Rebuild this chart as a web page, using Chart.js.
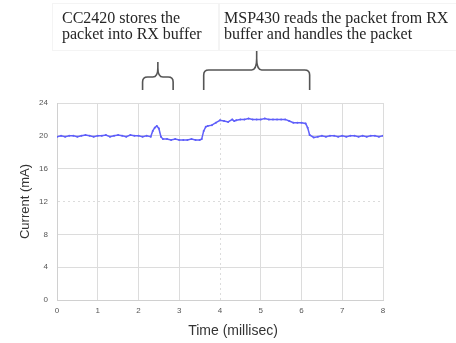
<!DOCTYPE html>
<html><head><meta charset="utf-8">
<script src="https://cdn.jsdelivr.net/npm/chart.js@4/dist/chart.umd.min.js"></script>
<style>html,body{margin:0;padding:0;background:#fff;}canvas{display:block;}</style>
</head><body>
<canvas id="c" width="456" height="343"></canvas>
<script>
// ---- data ----
const timeMs = [
  0,0.1,0.2,0.3,0.4,0.5,0.6,0.7,0.8,0.9,1.0,1.1,1.2,1.3,1.4,1.5,1.6,1.7,1.8,1.9,2.0,2.1,2.2,2.3,
  2.35,2.4,2.45,2.5,2.55,2.6,2.7,2.8,2.9,3.0,3.1,3.2,3.3,3.4,3.5,3.55,3.6,3.65,3.7,3.8,3.9,4.0,
  4.1,4.2,4.3,4.35,4.4,4.5,4.6,4.7,4.8,4.9,5.0,5.1,5.2,5.3,5.4,5.5,5.6,5.7,5.8,5.9,6.0,6.1,6.15,
  6.2,6.3,6.4,6.5,6.6,6.7,6.8,6.9,7.0,7.1,7.2,7.3,7.4,7.5,7.6,7.7,7.8,7.9,8.0
];
const currentMA = [
  19.9,20.0,19.9,20.0,20.0,19.9,20.0,20.1,20.0,19.9,20.0,20.0,20.1,19.9,20.0,20.1,20.0,19.9,20.1,20.0,20.0,19.9,20.0,19.9,
  20.6,21.0,21.2,20.9,19.9,19.6,19.6,19.5,19.6,19.5,19.5,19.5,19.6,19.5,19.5,19.6,20.6,21.1,21.2,21.3,21.6,21.9,
  21.8,21.7,22.0,21.8,21.9,22.0,22.0,22.1,22.0,22.0,22.0,22.1,22.0,22.0,22.0,22.0,22.0,21.8,21.6,21.6,21.6,21.5,21.0,
  20.1,19.8,19.9,20.0,19.9,20.0,20.0,19.9,20.0,19.9,20.0,20.0,19.9,20.0,19.9,20.0,20.0,19.9,20.0
];
const xTicks = [0,1,2,3,4,5,6,7,8];
const yTicks = [0,4,8,12,16,20,24];
const noteLines = [
  ["CC2420 stores the", "packet into RX buffer"],
  ["MSP430 reads the packet from RX", "buffer and handles the packet"]
];
const braceStart = [2.1, 3.6];
const braceEnd = [2.85, 6.2];
const xTitle = "Time (millisec)";
const yTitle = "Current (mA)";

const points = timeMs.map((t, i) => ({x: t, y: currentMA[i]}));

const annot = {
  id: 'annot',
  afterDraw(chart) {
    const ctx = chart.ctx;
    const xs = chart.scales.x;
    ctx.save();
    // note boxes
    ctx.strokeStyle = '#f4f4f4';
    ctx.lineWidth = 1;
    ctx.strokeRect(52.5, 3.5, 166, 47);
    ctx.strokeRect(219.5, 3.5, 240, 47);
    // note texts
    ctx.fillStyle = '#262626';
    ctx.font = '16px "Liberation Serif", "Times New Roman", serif';
    ctx.textBaseline = 'alphabetic';
    ctx.textAlign = 'left';
    const noteX = [62, 224];
    noteLines.forEach((lines, k) => {
      lines.forEach((s, j) => ctx.fillText(s, noteX[k], 22.5 + j * 16));
    });
    // braces
    ctx.strokeStyle = '#555';
    ctx.lineWidth = 1.6;
    const peaks = [62, 51];
    const mids = [77, 70];
    braceStart.forEach((s, k) => {
      const a = xs.getPixelForValue(s);
      const b = xs.getPixelForValue(braceEnd[k]);
      const c = (a + b) / 2;
      const bot = 90, m = mids[k], p = peaks[k], r = 5;
      ctx.beginPath();
      ctx.moveTo(a, bot);
      ctx.lineTo(a, m + r);
      ctx.quadraticCurveTo(a, m, a + r, m);
      ctx.lineTo(c - r, m);
      ctx.quadraticCurveTo(c, m, c, p + (m - p) * 0.4);
      ctx.lineTo(c, p);
      ctx.moveTo(c, p + (m - p) * 0.4);
      ctx.quadraticCurveTo(c, m, c + r, m);
      ctx.lineTo(b - r, m);
      ctx.quadraticCurveTo(b, m, b, m + r);
      ctx.lineTo(b, bot);
      ctx.stroke();
    });
    // x axis title
    ctx.fillStyle = '#333';
    ctx.font = '14px "Liberation Sans", Arial, sans-serif';
    ctx.textAlign = 'center';
    ctx.textBaseline = 'middle';
    ctx.fillText(xTitle, 233, 331);
    ctx.restore();
  }
};

Chart.defaults.font.family = '"Liberation Sans", Arial, sans-serif';

new Chart(document.getElementById('c'), {
  type: 'line',
  data: {
    datasets: [{
      data: points,
      borderColor: 'rgb(95,95,250)',
      backgroundColor: 'rgb(95,95,250)',
      borderWidth: 1.5,
      pointRadius: 1,
      pointBorderWidth: 0,
      tension: 0,
      fill: false
    }]
  },
  options: {
    responsive: false,
    animation: false,
    devicePixelRatio: 1,
    layout: { padding: { top: 103, right: 73, left: 0, bottom: 0 } },
    plugins: { legend: { display: false }, tooltip: { enabled: false } },
    scales: {
      x: {
        type: 'linear',
        min: 0, max: 8,
        afterFit(s) { s.height = 43; },
        afterBuildTicks(s) { s.ticks = xTicks.map(v => ({value: v})); },
        grid: { color: '#dcdcdc', drawTicks: false, lineWidth: 1 },
        border: { color: '#d0d0d0', dash: (c) => (c.tick && c.tick.value === 4) ? [2, 3] : [] },
        ticks: { color: '#555', font: { size: 8 }, padding: 6, maxRotation: 0 },
        title: { display: false }
      },
      y: {
        min: 0, max: 24,
        afterFit(s) { s.width = 57; },
        afterBuildTicks(s) { s.ticks = yTicks.map(v => ({value: v})); },
        grid: { color: '#dcdcdc', drawTicks: false, lineWidth: 1 },
        border: { color: '#d0d0d0', dash: (c) => (c.tick && c.tick.value === 12) ? [2, 3] : [] },
        ticks: { color: '#555', font: { size: 8 }, padding: 9 },
        title: { display: true, text: yTitle, color: '#333', font: { size: 13 }, padding: { top: 18, bottom: 0 } }
      }
    }
  },
  plugins: [annot]
});
</script>
</body></html>
